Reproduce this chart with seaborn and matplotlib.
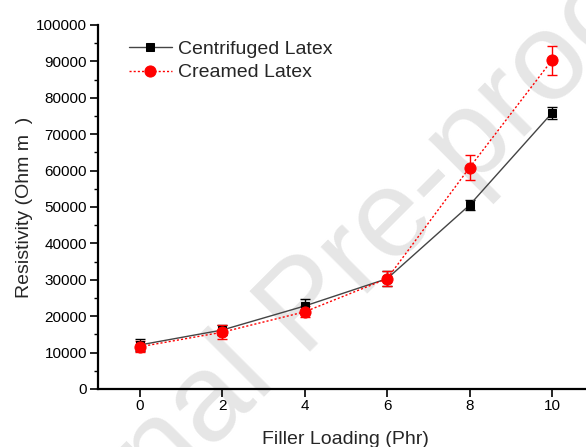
import matplotlib
matplotlib.use("Agg")
import matplotlib.pyplot as plt
import seaborn as sns
import pandas as pd

# Filler loading (phr) and measured resistivity for both latex types
filler = [0, 2, 4, 6, 8, 10]
centrifuged = [12100, 16200, 22800, 30300, 50500, 75800]
centrifuged_err = [1600, 1400, 2000, 2000, 1400, 1700]
creamed = [11600, 15600, 21200, 30300, 60800, 90300]
creamed_err = [1500, 2000, 1500, 2000, 3500, 4000]

x_ticks = [0, 2, 4, 6, 8, 10]
y_ticks = list(range(0, 100001, 10000))

sns.set_theme(style="ticks")
plt.rcParams["font.family"] = ["Liberation Sans", "DejaVu Sans"]

df = pd.DataFrame({
    "Filler": filler * 2,
    "Resistivity": centrifuged + creamed,
    "Latex": ["Centrifuged Latex"] * len(filler) + ["Creamed Latex"] * len(filler),
})

fig = plt.figure(figsize=(5.86, 4.47), dpi=100)
ax = fig.add_axes([0.1664, 0.1298, 0.8457, 0.8143])
ax.set_facecolor("none")

# watermark behind everything else
fig.text(0.525, 0.31, "Journal Pre-proof", fontsize=90, color="#e6e6e6",
         rotation=45, ha="center", va="center", rotation_mode="anchor", zorder=-1)

# error bars
ax.errorbar(filler, centrifuged, yerr=centrifuged_err, fmt="none",
            ecolor="black", elinewidth=1.0, capsize=3.5, capthick=1.0, zorder=3)
ax.errorbar(filler, creamed, yerr=creamed_err, fmt="none",
            ecolor="red", elinewidth=1.0, capsize=3.5, capthick=1.0, zorder=4)

sns.lineplot(data=df[df["Latex"] == "Centrifuged Latex"], x="Filler", y="Resistivity",
             ax=ax, color="#444444", linewidth=1.0, marker="s", markersize=5.5,
             markerfacecolor="black", markeredgecolor="black", zorder=5,
             label="Centrifuged Latex")
sns.lineplot(data=df[df["Latex"] == "Creamed Latex"], x="Filler", y="Resistivity",
             ax=ax, color="red", linewidth=1.0, linestyle=(0, (1.5, 1.5)), marker="o",
             markersize=8, markerfacecolor="red", markeredgecolor="red", zorder=6,
             label="Creamed Latex")

ax.set_xlim(-1.03, 11)
ax.set_ylim(0, 100000)
ax.set_xticks(x_ticks)
ax.set_yticks(y_ticks)
ax.set_yticks(list(range(5000, 100000, 10000)), minor=True)

for side in ("top", "right"):
    ax.spines[side].set_visible(False)
for side in ("left", "bottom"):
    ax.spines[side].set_linewidth(1.6)
    ax.spines[side].set_color("black")

ax.tick_params(axis="both", which="major", direction="out", length=5.5, width=1.2,
               labelsize=11, colors="black", pad=2)
ax.tick_params(axis="y", which="minor", direction="out", length=3, width=1.0, colors="black")

ax.set_xlabel("Filler Loading (Phr)", fontsize=14, labelpad=13)
ax.set_ylabel("Resistivity (Ohm m  )", fontsize=14, labelpad=2)

handles, labels = ax.get_legend_handles_labels()
leg = ax.legend(handles, labels, loc="upper left", bbox_to_anchor=(0.04, 0.99),
                frameon=False, fontsize=14, handlelength=2.2, handletextpad=0.3,
                labelspacing=0.3, borderaxespad=0.2)

fig.savefig("out.png", dpi=100)
